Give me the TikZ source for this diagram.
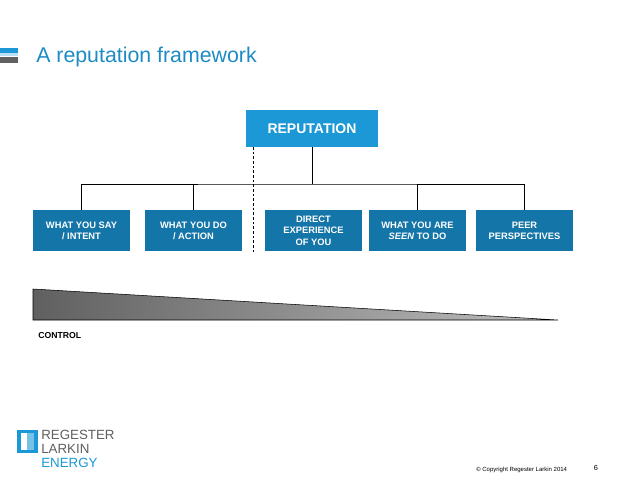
\documentclass[tikz,border=0pt]{standalone}
\usepackage{fontspec}
\setmainfont{Liberation Sans}
\definecolor{boxc}{HTML}{1475A8}
\definecolor{topc}{HTML}{1B98D5}
\definecolor{titlec}{HTML}{1E8CC4}
\definecolor{lgray}{HTML}{606060}
\begin{document}
\begin{tikzpicture}[x=0.75pt,y=-0.75pt,
 lowbox/.style={fill=boxc,text=white,font=\bfseries\fontsize{7}{8.5}\selectfont,align=center,minimum width=72.75pt,minimum height=30.75pt,inner sep=1pt},
 conn/.style={draw=black,line width=0.5pt}]
\useasboundingbox (0,0) rectangle (638,479);
\fill[white] (0,0) rectangle (638,479);
\fill[topc] (0,48) rectangle (18,53);
\fill[white!70!topc] (0,53) rectangle (18,56);
\fill[lgray] (0,57) rectangle (18,63);
\node[anchor=west,text=titlec,font=\fontsize{16}{18}\selectfont,inner sep=0] (title) at (36,57) {A reputation framework};
\node[fill=topc,text=white,font=\bfseries\fontsize{10.5}{12}\selectfont,minimum width=99pt,minimum height=27.75pt] (rep) at (312,128.5) {REPUTATION};
\node[lowbox] (b1) at (81.5,230.5) {WHAT YOU SAY\\/ INTENT};
\node[lowbox] (b2) at (193.5,230.5) {WHAT YOU DO\\/ ACTION};
\node[lowbox] (b3) at (313.5,230.5) {DIRECT\\EXPERIENCE\\OF YOU};
\node[lowbox] (b4) at (417.5,230.5) {WHAT YOU ARE\\\textit{SEEN} TO DO};
\node[lowbox] (b5) at (524.5,230.5) {PEER\\PERSPECTIVES};
\coordinate (h) at (312,184);
\draw[conn] (rep.south) -- (h);
\draw[conn] (b1.north) |- (h) -| (b5.north);
\draw[conn] (b2.north) -- (b2.north |- h);
\draw[conn] (b4.north) -- (b4.north |- h);
\coordinate (d1) at (253,147);
\coordinate (d2) at (253,252);
\draw[dashed,dash pattern=on 2pt off 1.5pt,line width=0.5pt] (d1) -- (d2);
\shade[left color=lgray,right color=white!60!lgray,draw=black,line width=0.4pt] (33,289) -- (558,320) -- (33,320) -- cycle;
\node[anchor=west,font=\bfseries\fontsize{6.5}{8}\selectfont,inner sep=0] (ctl) at (38,336) {CONTROL};
\fill[topc] (17,430) rectangle (38,453);
\fill[white] (21,433) rectangle (27,450);
\fill[topc!60] (27,433) rectangle (34,450);
\node[anchor=north west,align=left,inner sep=0,font=\fontsize{10}{10.5}\selectfont,text=lgray] (logo) at (41,430) {REGESTER\\LARKIN\\\textcolor{topc}{ENERGY}};
\node[anchor=west,inner sep=0,font=\fontsize{4.5}{5}\selectfont] (copy) at (476,470) {© Copyright Regester Larkin 2014};
\node[inner sep=0,font=\fontsize{5.5}{6}\selectfont] (pg) at (596,468) {6};
\end{tikzpicture}
\end{document}
